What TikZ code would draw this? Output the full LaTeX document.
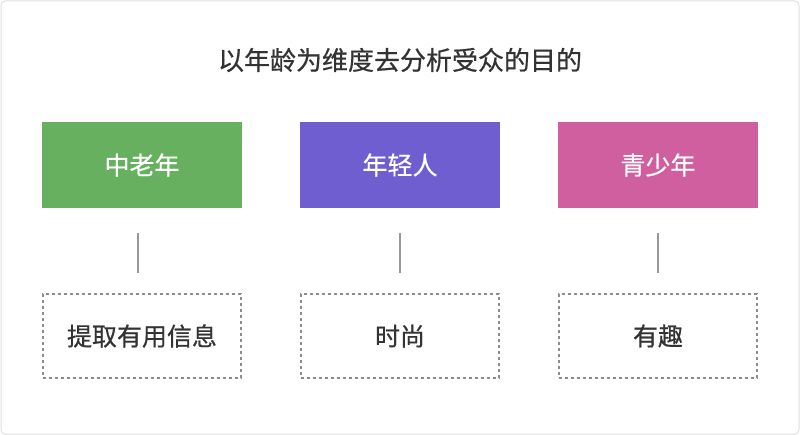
\documentclass[tikz,border=0pt]{standalone}
\usepackage{fontspec}
\setmainfont{Noto Sans CJK SC}[FakeBold=0.6]
\definecolor{cg}{HTML}{66B060}
\definecolor{cp}{HTML}{6E5ECF}
\definecolor{ck}{HTML}{D05FA0}
\definecolor{tx}{HTML}{333333}
\begin{document}
\begin{tikzpicture}[x=1pt,y=-1pt,
  top/.style={minimum width=200pt,minimum height=86pt,inner sep=0pt,text=white,font=\fontsize{25}{30}\selectfont},
  bot/.style={draw=gray!90,dashed,line width=1.2pt,minimum width=198pt,minimum height=84pt,inner sep=0pt,text=tx,font=\fontsize{25}{30}\selectfont},
  conn/.style={draw=gray!80,line width=1.2pt}]
\useasboundingbox (0,0) rectangle (800,435);
\draw[gray!25,rounded corners=4pt,line width=1pt] (1,1) rectangle (799,434);
\node[text=tx,font=\fontsize{26}{30}\selectfont] (t) at (400,60) {以年龄为维度去分析受众的目的};
\node[top,fill=cg] (a) at (142,165) {中老年};
\node[top,fill=cp] (b) at (400,165) {年轻人};
\node[top,fill=ck] (c) at (658,165) {青少年};
\node[bot] (a2) at (142,336) {提取有用信息};
\node[bot] (b2) at (400,336) {时尚};
\node[bot] (c2) at (658,336) {有趣};
\foreach \n/\x in {a/138,b/400,c/658}{
  \coordinate (\n s) at (\x,233); \coordinate (\n e) at (\x,273);
  \draw[conn] (\n s) -- (\n e);}
\end{tikzpicture}
\end{document}
